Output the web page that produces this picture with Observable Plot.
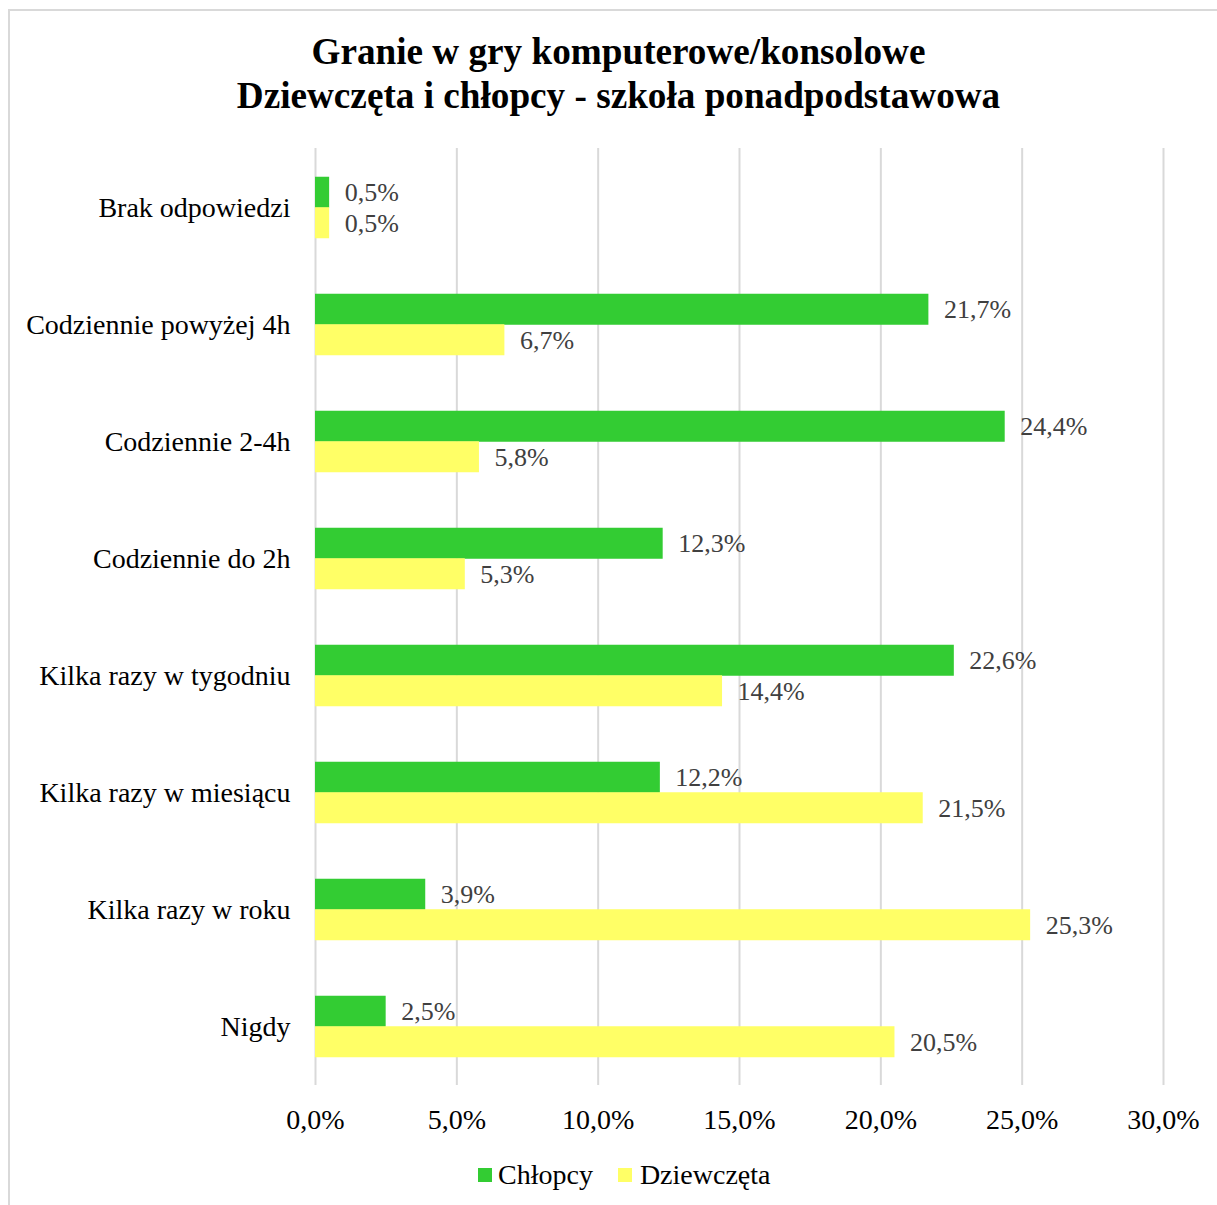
<!DOCTYPE html>
<html>
<head>
<meta charset="utf-8">
<script src="https://cdn.jsdelivr.net/npm/d3@7"></script>
<script src="https://cdn.jsdelivr.net/npm/@observablehq/plot@0.6"></script>
<style>
  html, body { margin: 0; padding: 0; background: #fff; overflow: hidden; }
  #page { position: relative; width: 1217px; height: 1205px; font-family: "Liberation Serif", "Times New Roman", serif; }
  #frame { position: absolute; left: 8px; top: 9px; width: 1300px; height: 1300px; border-top: 2px solid #d9d9d9; border-left: 2px solid #d9d9d9; box-sizing: border-box; }
  #title { position: absolute; left: 0; top: 30px; width: 1237px; text-align: center; font-weight: bold; font-size: 37.2px; line-height: 44px; color: #000; }
  #chart { position: absolute; left: 0; top: 130px; }
  #legend { position: absolute; left: 478px; top: 1161px; display: flex; align-items: center; font-size: 28px; line-height: 28px; color: #000; white-space: nowrap; }
  .sw { width: 14px; height: 14px; display: inline-block; }
</style>
</head>
<body>
<div id="page">
  <div id="frame"></div>
  <div id="title">Granie w gry komputerowe/konsolowe<br>Dziewczęta i chłopcy - szkoła ponadpodstawowa</div>
  <div id="chart"></div>
  <div id="legend"></div>
</div>
<script>
const categories = [
  "Brak odpowiedzi",
  "Codziennie powyżej 4h",
  "Codziennie 2-4h",
  "Codziennie do 2h",
  "Kilka razy w tygodniu",
  "Kilka razy w miesiącu",
  "Kilka razy w roku",
  "Nigdy"
];
const seriesNames = ["Chłopcy", "Dziewczęta"];
const seriesColors = ["#33cc33", "#ffff66"];
const chlopcy = [0.5, 21.7, 24.4, 12.3, 22.6, 12.2, 3.9, 2.5];
const dziewczeta = [0.5, 6.7, 5.8, 5.3, 14.4, 21.5, 25.3, 20.5];
const xTicks = [0, 5, 10, 15, 20, 25, 30];

const fmt = v => v.toFixed(1).replace(".", ",") + "%";

const boys = categories.map((c, i) => ({category: c, value: chlopcy[i]}));
const girls = categories.map((c, i) => ({category: c, value: dziewczeta[i]}));

const half = 15.25;

const chart = Plot.plot({
  width: 1217,
  height: 1010,
  marginTop: 18,
  marginBottom: 55,
  marginLeft: 315,
  marginRight: 54,
  style: {fontFamily: "'Liberation Serif', 'Times New Roman', serif", fontSize: "28px", color: "#000", background: "transparent"},
  x: {domain: [0, 30], ticks: xTicks, tickFormat: fmt, tickSize: 0, tickPadding: 24, label: null},
  y: {domain: categories, paddingInner: 0.739, paddingOuter: 0.3695, tickSize: 0, tickPadding: 25, label: null},
  marks: [
    Plot.ruleX(xTicks, {x: d => d, stroke: "#d9d9d9", strokeWidth: 2, strokeOpacity: 1}),
    Plot.barX(boys, {x: "value", y: "category", fill: seriesColors[0], dy: -half}),
    Plot.barX(girls, {x: "value", y: "category", fill: seriesColors[1], dy: half}),
    Plot.text(boys, {x: "value", y: "category", text: d => fmt(d.value), dy: -half, dx: 15, textAnchor: "start", fill: "#404040", fontSize: 26}),
    Plot.text(girls, {x: "value", y: "category", text: d => fmt(d.value), dy: half, dx: 15, textAnchor: "start", fill: "#404040", fontSize: 26})
  ]
});
document.getElementById("chart").appendChild(chart);

const legend = document.getElementById("legend");
seriesNames.forEach((name, i) => {
  const sw = document.createElement("span");
  sw.className = "sw";
  sw.style.background = seriesColors[i];
  sw.style.marginRight = i === 0 ? "6px" : "8px";
  const t = document.createElement("span");
  t.textContent = name;
  t.style.marginRight = i === 0 ? "25px" : "0";
  legend.appendChild(sw);
  legend.appendChild(t);
});
</script>
</body>
</html>
